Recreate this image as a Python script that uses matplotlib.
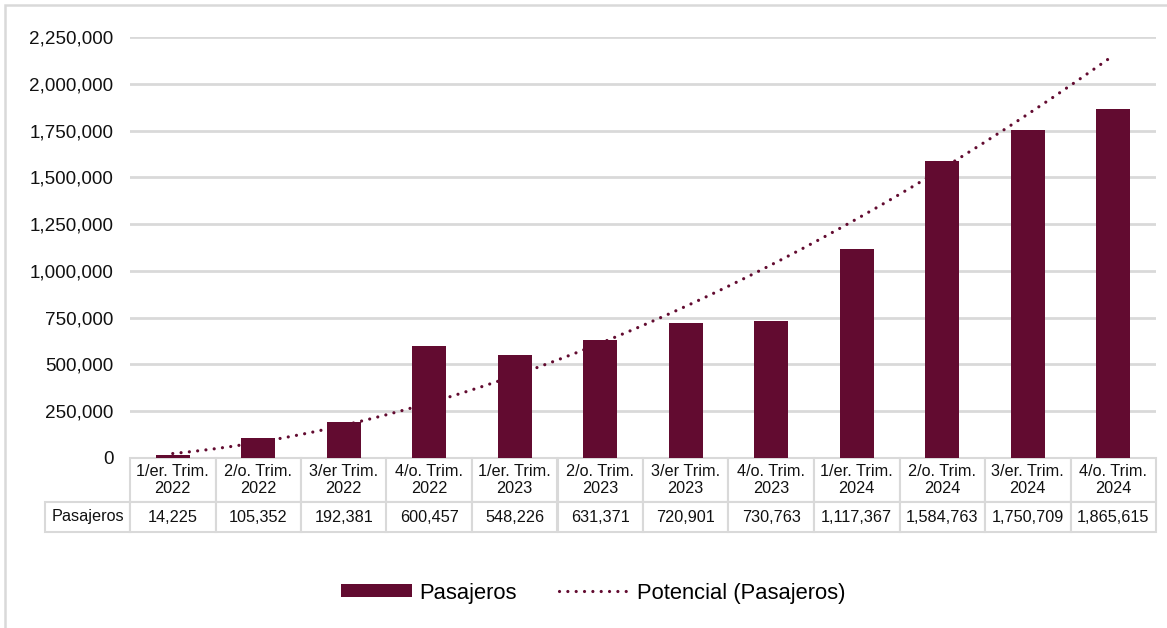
import matplotlib.pyplot as plt
import numpy as np
from matplotlib.patches import Rectangle

plt.rcParams['font.family'] = ['Liberation Sans', 'DejaVu Sans']

trimestres = ["1/er. Trim.\n2022", "2/o. Trim.\n2022", "3/er Trim.\n2022", "4/o. Trim.\n2022",
              "1/er. Trim.\n2023", "2/o. Trim.\n2023", "3/er Trim.\n2023", "4/o. Trim.\n2023",
              "1/er. Trim.\n2024", "2/o. Trim.\n2024", "3/er. Trim.\n2024", "4/o. Trim.\n2024"]
pasajeros = [14225, 105352, 192381, 600457, 548226, 631371,
             720901, 730763, 1117367, 1584763, 1750709, 1865615]
yticks = [0, 250000, 500000, 750000, 1000000, 1250000, 1500000, 1750000, 2000000, 2250000]

bar_color = "#620b30"
grid_color = "#d9d9d9"

fig = plt.figure(figsize=(11.67, 6.28), dpi=100)
ax = fig.add_axes([130 / 1167, 1 - 458 / 628, 1026 / 1167, 421 / 628])

x = np.arange(1, len(pasajeros) + 1)
bars = ax.bar(x, pasajeros, width=0.4, color=bar_color, label="Pasajeros", zorder=3)

# power trendline (like Excel's "Potencial")
b, ln_a = np.polyfit(np.log(x), np.log(pasajeros), 1)
xs = np.linspace(1, len(pasajeros), 200)
trend, = ax.plot(xs, np.exp(ln_a) * xs ** b, color=bar_color, lw=2.3,
                 linestyle=(0, (0.01, 2.6)), dash_capstyle="round",
                 label="Potencial (Pasajeros)", zorder=4)

ax.set_xlim(0.5, len(pasajeros) + 0.5)
ax.set_ylim(0, 2250000)
ax.set_yticks(yticks)
ax.set_yticklabels([f"{v:,}" for v in yticks], fontsize=13.6, color="#111111")
ax.tick_params(axis="y", length=0, pad=12)
ax.set_xticks([])
ax.grid(axis="y", color=grid_color, lw=2, zorder=0)
for s in ax.spines.values():
    s.set_visible(False)

# data table under the chart
label_w = 85 / 1026
cell_text = [[""] + trimestres, ["Pasajeros"] + [f"{v:,}" for v in pasajeros]]
tbl = ax.table(cellText=cell_text, cellLoc="center",
               colWidths=[label_w] + [1 / 12] * 12,
               bbox=[-label_w, -74 / 421, 1 + label_w, 74 / 421])
tbl.auto_set_font_size(False)
tbl.set_fontsize(11.7)
for (r, c), cell in tbl.get_celld().items():
    cell.set_edgecolor(grid_color)
    cell.set_linewidth(1.5)
    cell.set_height(44 if r == 0 else 30)
    cell.get_text().set_color("#111111")
    cell.get_text().set_linespacing(1.15)
tbl[0, 0].visible_edges = "open"

fig.legend(handles=[bars, trend], loc="center", bbox_to_anchor=(0.5086, 1 - 593 / 628),
           ncol=2, frameon=False, fontsize=15.8, handlelength=3.2, handleheight=0.55,
           columnspacing=1.9, handletextpad=0.37)

fig.patches.append(Rectangle((5 / 1167, -0.1), 1.2, 1.1 - 5 / 628, fill=False,
                             edgecolor=grid_color, lw=1.8, transform=fig.transFigure))

fig.savefig("out.png", dpi=100)
